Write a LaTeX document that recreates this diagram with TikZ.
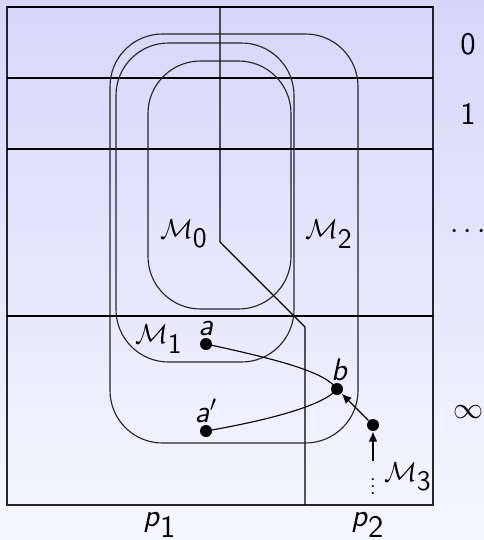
\documentclass[tikz,border=0pt]{standalone}
\usepackage{tikz}
\usetikzlibrary{arrows.meta}
\definecolor{SlideTop}{HTML}{D6D6FA}
\definecolor{SlideBottom}{HTML}{F7F7FF}
\definecolor{FrameGray}{HTML}{262626}
\newcommand{\sv}[1]{\textsf{\itshape #1}}

\begin{document}
\begin{tikzpicture}[
  x=0.4pt,y=-0.4pt,
  every node/.style={font=\sffamily\fontsize{12.5pt}{15pt}\selectfont},
  setname/.style={font=\sffamily\fontsize{11.3pt}{13pt}\selectfont},
  grid/.style={draw=black,line width=0.45pt},
  region/.style={draw=FrameGray,line width=0.45pt,rounded corners=21pt},
  pt/.style={circle,fill=black,inner sep=0pt,minimum size=4.8pt},
  dotlbl/.style={inner sep=0.5pt},
  arr/.style={-{Latex[length=4pt,width=3.4pt]},line width=0.45pt}
]
% background and frame
\shade[top color=SlideTop,bottom color=SlideBottom] (0,0) rectangle (484,540);
\useasboundingbox (0,0) rectangle (484,540);
\draw[grid,draw=FrameGray,line width=0.6pt] (7,7) rectangle (433,505);
\draw[grid] (7,7) -- (433,7);
\draw[grid] (7,78) -- (433,78);
\draw[grid] (7,149) -- (433,149);
\draw[grid] (7,316) -- (433,316);
% split between p1 and p2
\draw[grid] (220,7) -- (220,242) -- (305,327) -- (305,505);
% the regions
\draw[region] (148,61) rectangle (291,309);
\draw[region] (116,43) rectangle (294,362);
\draw[region] (110,34) rectangle (358,443);
\node[setname] (m0) at (184,234) {$\mathcal{M}_{\textsf{0}}$};
\node[setname] (m1) at (159,339) {$\mathcal{M}_{\textsf{1}}$};
\node[setname] (m2) at (329,234) {$\mathcal{M}_{\textsf{2}}$};
% points
\node[pt,label={[dotlbl]above:\sv{a}}] (a) at (206,344) {};
\node[pt,label={[dotlbl,xshift=1pt]above:\sv{b}}] (b) at (337,389) {};
\node[pt,label={[dotlbl]above:\sv{a}$'$}] (a2) at (206,431) {};
\node[pt] (c) at (373,425) {};
\node[scale=0.72] (vd) at (373,481) {$\vdots$};
\node[setname] (m3) at (408,477) {$\mathcal{M}_{\textsf{3}}$};
\draw[line width=0.45pt] (a.center) .. controls (280,360) and (325,372) .. (b.center);
\draw[line width=0.45pt] (b.center) .. controls (325,405) and (270,420) .. (a2.center);
\draw[arr] (c) -- (b);
\draw[arr] (vd) -- (c);
% levels
\node (l0) at (468,44) {0};
\node (l1) at (468,114) {1};
\node (ld) at (468,232) {$\cdots$};
\node (li) at (468,412) {$\infty$};
% processes
\node[inner sep=0pt] (p1) at (160,525) {\sv{p}$_{\textsf{1}}$};
\node[inner sep=0pt] (p2) at (368,525) {\sv{p}$_{\textsf{2}}$};
\end{tikzpicture}
\end{document}
